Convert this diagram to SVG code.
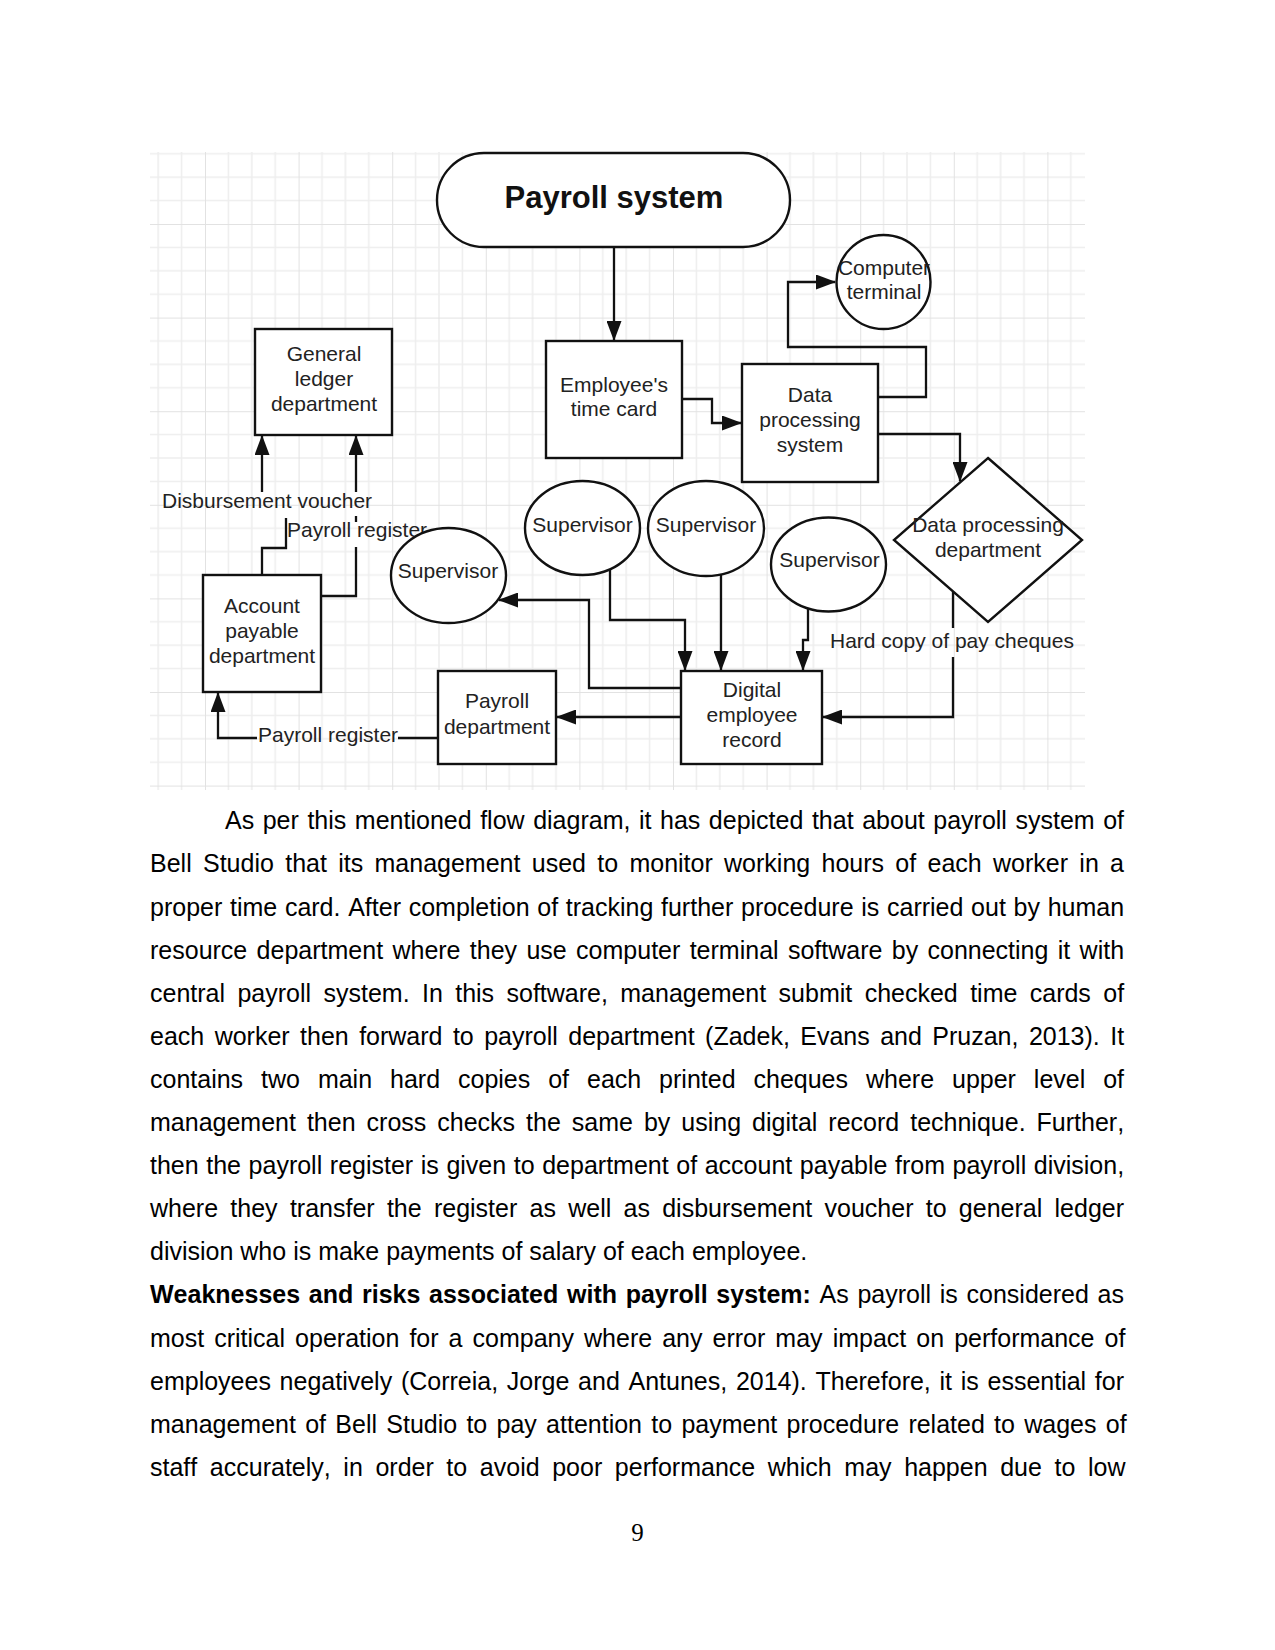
<svg xmlns="http://www.w3.org/2000/svg" width="1275" height="1650" viewBox="0 0 1275 1650">
<defs>
<style>
.node{fill:#fff;stroke:#111;stroke-width:2.4}
.lbl{font-family:"Liberation Sans",Arial,sans-serif;font-size:21px;fill:#222;text-anchor:middle}
.lbs{font-family:"Liberation Sans",Arial,sans-serif;font-size:21px;fill:#222}
.con{fill:none;stroke:#111;stroke-width:2.3}
.arr{marker-end:url(#ah)}
.para{font-family:"Liberation Sans",Arial,sans-serif;font-size:25px;fill:#000;font-kerning:none}
.b{font-weight:bold}
</style>
<marker id="ah" markerUnits="userSpaceOnUse" markerWidth="20" markerHeight="15" refX="19" refY="7.5" orient="auto">
<path d="M0,0 L20,7.5 L0,15 z" fill="#111"/>
</marker>
<pattern id="grid" patternUnits="userSpaceOnUse" x="111.4" y="130.4" width="93.6" height="93.6">
<path d="M23.4,0 V93.6 M46.8,0 V93.6 M70.2,0 V93.6 M0,23.4 H93.6 M0,46.8 H93.6 M0,70.2 H93.6" stroke="#eeeeee" stroke-width="1.6" fill="none"/>
<path d="M0,0 V93.6 M0,0 H93.6" stroke="#e2e2e2" stroke-width="2" fill="none"/>
</pattern>
</defs>
<rect width="1275" height="1650" fill="#fff"/>
<rect x="150" y="152" width="935" height="638" fill="url(#grid)"/>

<g id="connectors">
<path class="con arr" d="M614,247 V340"/>
<path class="con arr" d="M682,399 H712 V423 H741"/>
<path class="con arr" d="M878,397 H926 V347 H788 V282 H835"/>
<path class="con arr" d="M878,434 H960 V481"/>
<path class="con" d="M262,575 V548 H286 V518"/>
<path class="con arr" d="M262,492 V436"/>
<path class="con" d="M321,596 H356 V547"/>
<path class="con arr" d="M356,492 V436"/>
<path class="con" d="M356,516 V522"/>
<path class="con arr" d="M610,569 V620 H685 V670"/>
<path class="con arr" d="M721,574 V670"/>
<path class="con arr" d="M808,608 V640 H803 V670"/>
<path class="con" d="M953,592 V628"/>
<path class="con arr" d="M953,657 V717 H823"/>
<path class="con arr" d="M681,688 H589 V600 H499"/>
<path class="con arr" d="M681,717 H557"/>
<path class="con" d="M438,738 H398"/>
<path class="con arr" d="M257,738 H218 V693"/>
<text class="lbs" x="162" y="508">Disbursement voucher</text>
<text class="lbs" x="287" y="537">Payroll register</text>
<text class="lbs" x="830" y="648">Hard copy of pay cheques</text>
<text class="lbs" x="258" y="742">Payroll register</text>
</g>

<g id="payroll-system">
<rect class="node" x="437" y="153" width="353" height="94" rx="47" ry="47"/>
<text x="614" y="208" font-family="Liberation Sans, Arial, sans-serif" font-size="31" font-weight="bold" fill="#111" text-anchor="middle">Payroll system</text>
</g>
<g id="time-card">
<rect class="node" x="546" y="341" width="136" height="117"/>
<text class="lbl" x="614" y="392">Employee's</text>
<text class="lbl" x="614" y="416">time card</text>
</g>
<g id="data-processing-system">
<rect class="node" x="742" y="364" width="136" height="118"/>
<text class="lbl" x="810" y="402">Data</text>
<text class="lbl" x="810" y="427">processing</text>
<text class="lbl" x="810" y="452">system</text>
</g>
<g id="computer-terminal">
<circle class="node" cx="883.5" cy="282" r="47"/>
<text class="lbl" x="884" y="275">Computer</text>
<text class="lbl" x="884" y="299">terminal</text>
</g>
<g id="general-ledger">
<rect class="node" x="255" y="329" width="137" height="106"/>
<text class="lbl" x="324" y="361">General</text>
<text class="lbl" x="324" y="386">ledger</text>
<text class="lbl" x="324" y="411">department</text>
</g>
<g id="account-payable">
<rect class="node" x="203" y="575" width="118" height="117"/>
<text class="lbl" x="262" y="613">Account</text>
<text class="lbl" x="262" y="638">payable</text>
<text class="lbl" x="262" y="663">department</text>
</g>
<g id="supervisor-1">
<ellipse class="node" cx="448.5" cy="575.5" rx="57.5" ry="47.5"/>
<text class="lbl" x="448" y="578">Supervisor</text>
</g>
<g id="supervisor-2">
<ellipse class="node" cx="582.5" cy="528" rx="57.5" ry="47"/>
<text class="lbl" x="582.5" y="532">Supervisor</text>
</g>
<g id="supervisor-3">
<ellipse class="node" cx="706" cy="528.5" rx="58" ry="47.5"/>
<text class="lbl" x="706" y="532">Supervisor</text>
</g>
<g id="supervisor-4">
<ellipse class="node" cx="828.5" cy="564.5" rx="57.5" ry="47"/>
<text class="lbl" x="829.5" y="567">Supervisor</text>
</g>
<g id="data-processing-department">
<polygon class="node" points="988,458 1082,540 988,622 894,540"/>
<text class="lbl" x="988" y="532">Data processing</text>
<text class="lbl" x="988" y="557">department</text>
</g>
<g id="digital-employee-record">
<rect class="node" x="681" y="671" width="141" height="93"/>
<text class="lbl" x="752" y="697">Digital</text>
<text class="lbl" x="752" y="722">employee</text>
<text class="lbl" x="752" y="747">record</text>
</g>
<g id="payroll-department">
<rect class="node" x="438" y="671" width="118" height="93"/>
<text class="lbl" x="497" y="708">Payroll</text>
<text class="lbl" x="497" y="734">department</text>
</g>

<g id="body-text">
<text class="para" x="225" y="829.3" word-spacing="1.6">As per this mentioned flow diagram, it has depicted that about payroll system of</text>
<text class="para" x="150" y="872.4" word-spacing="4.36">Bell Studio that its management used to monitor working hours of each worker in a</text>
<text class="para" x="150" y="915.5" word-spacing="0.75">proper time card. After completion of tracking further procedure is carried out by human</text>
<text class="para" x="150" y="958.6" word-spacing="2.4">resource department where they use computer terminal software by connecting it with</text>
<text class="para" x="150" y="1001.7" word-spacing="5.44">central payroll system. In this software, management submit checked time cards of</text>
<text class="para" x="150" y="1044.8" word-spacing="3.47">each worker then forward to payroll department (Zadek, Evans and Pruzan, 2013). It</text>
<text class="para" x="150" y="1087.9" word-spacing="10.99">contains two main hard copies of each printed cheques where upper level of</text>
<text class="para" x="150" y="1131" word-spacing="4.04">management then cross checks the same by using digital record technique. Further,</text>
<text class="para" x="150" y="1174.1" word-spacing="0.64">then the payroll register is given to department of account payable from payroll division,</text>
<text class="para" x="150" y="1217.2" word-spacing="5.32">where they transfer the register as well as disbursement voucher to general ledger</text>
<text class="para" x="150" y="1260.3">division who is make payments of salary of each employee.</text>
<text class="para" x="150" y="1303.4" word-spacing="1.76"><tspan class="b">Weaknesses and risks associated with payroll system:</tspan> As payroll is considered as</text>
<text class="para" x="150" y="1346.5" word-spacing="3.1">most critical operation for a company where any error may impact on performance of</text>
<text class="para" x="150" y="1389.6" word-spacing="1.76">employees negatively (Correia, Jorge and Antunes, 2014). Therefore, it is essential for</text>
<text class="para" x="150" y="1432.7" word-spacing="2.32">management of Bell Studio to pay attention to payment procedure related to wages of</text>
<text class="para" x="150" y="1475.8" word-spacing="5.66">staff accurately, in order to avoid poor performance which may happen due to low</text>
<text x="637.5" y="1541" font-family="Liberation Serif, Times New Roman, serif" font-size="25" fill="#000" text-anchor="middle">9</text>
</g>
</svg>
